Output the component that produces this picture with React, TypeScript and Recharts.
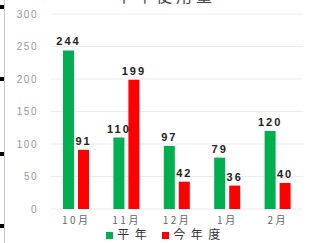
import { Bar, BarChart, CartesianGrid, LabelList, Legend, XAxis, YAxis } from "recharts";

const months = ["10月", "11月", "12月", "1月", "2月"];
const normalYear = [244, 110, 97, 79, 120];
const thisYear = [91, 199, 42, 36, 40];
const yTicks = [0, 50, 100, 150, 200, 250, 300];

const data = months.map((m, i) => ({ month: m, normal: normalYear[i], current: thisYear[i] }));

const GREEN = "#00b050";
const RED = "#ff0000";

const labelStyle = { fill: "#222", fontSize: 11, fontWeight: 700, letterSpacing: 2 };

export default function App() {
  return (
    <div
      style={{
        position: "absolute",
        left: 0,
        top: 0,
        width: 316,
        height: 243,
        background: "#fff",
        overflow: "hidden",
        fontFamily: "'Liberation Sans', Arial, sans-serif",
      }}
    >
      {/* frame remnants on the left edge */}
      <div style={{ position: "absolute", left: 4, top: 0, width: 1, height: 243, background: "#c8c8c8" }} />
      {[5, 77, 152, 224].map((y) => (
        <div key={y} style={{ position: "absolute", left: 0, top: y, width: 4, height: 4, background: "#000" }} />
      ))}
      {/* title, mostly cut off at the top */}
      <div
        style={{
          position: "absolute",
          left: 0,
          width: 332,
          top: -17,
          textAlign: "center",
          fontSize: 16,
          letterSpacing: 4,
          color: "#444",
          fontFamily: "'Noto Sans CJK JP', sans-serif",
        }}
      >
        平年使用量
      </div>
      <BarChart
        width={316}
        height={243}
        data={data}
        margin={{ top: 14, right: 13, left: 11, bottom: 0 }}
        barSize={11}
        barGap={4}
      >
        <CartesianGrid vertical={false} stroke="#ebebeb" />
        <XAxis
          dataKey="month"
          axisLine={false}
          tickLine={false}
          tickSize={0}
          tickMargin={8}
          height={16}
          interval={0}
          tick={{ fill: "#666", fontSize: 10, letterSpacing: 2.5, fontFamily: "'Noto Sans CJK JP', sans-serif" }}
        />
        <YAxis
          domain={[0, 300]}
          ticks={yTicks}
          axisLine={false}
          tickLine={false}
          tickSize={0}
          tickMargin={13}
          width={40}
          tick={{ fill: "#999", fontSize: 10, letterSpacing: 1.5 }}
        />
        <Legend
          verticalAlign="bottom"
          height={18}
          iconType="square"
          iconSize={7}
          itemSorter={null}
          wrapperStyle={{
            fontSize: 12,
            letterSpacing: 5.5,
            fontFamily: "'Noto Sans CJK JP', sans-serif",
            color: "#333",
            paddingLeft: 14,
          }}
          formatter={(v: string) => <span style={{ color: "#333" }}>{v}</span>}
        />
        <Bar dataKey="normal" name="平年" fill={GREEN} isAnimationActive={false}>
          <LabelList dataKey="normal" position="top" offset={5} style={labelStyle} />
        </Bar>
        <Bar dataKey="current" name="今年度" fill={RED} isAnimationActive={false}>
          <LabelList dataKey="current" position="top" offset={5} style={labelStyle} />
        </Bar>
      </BarChart>
    </div>
  );
}
